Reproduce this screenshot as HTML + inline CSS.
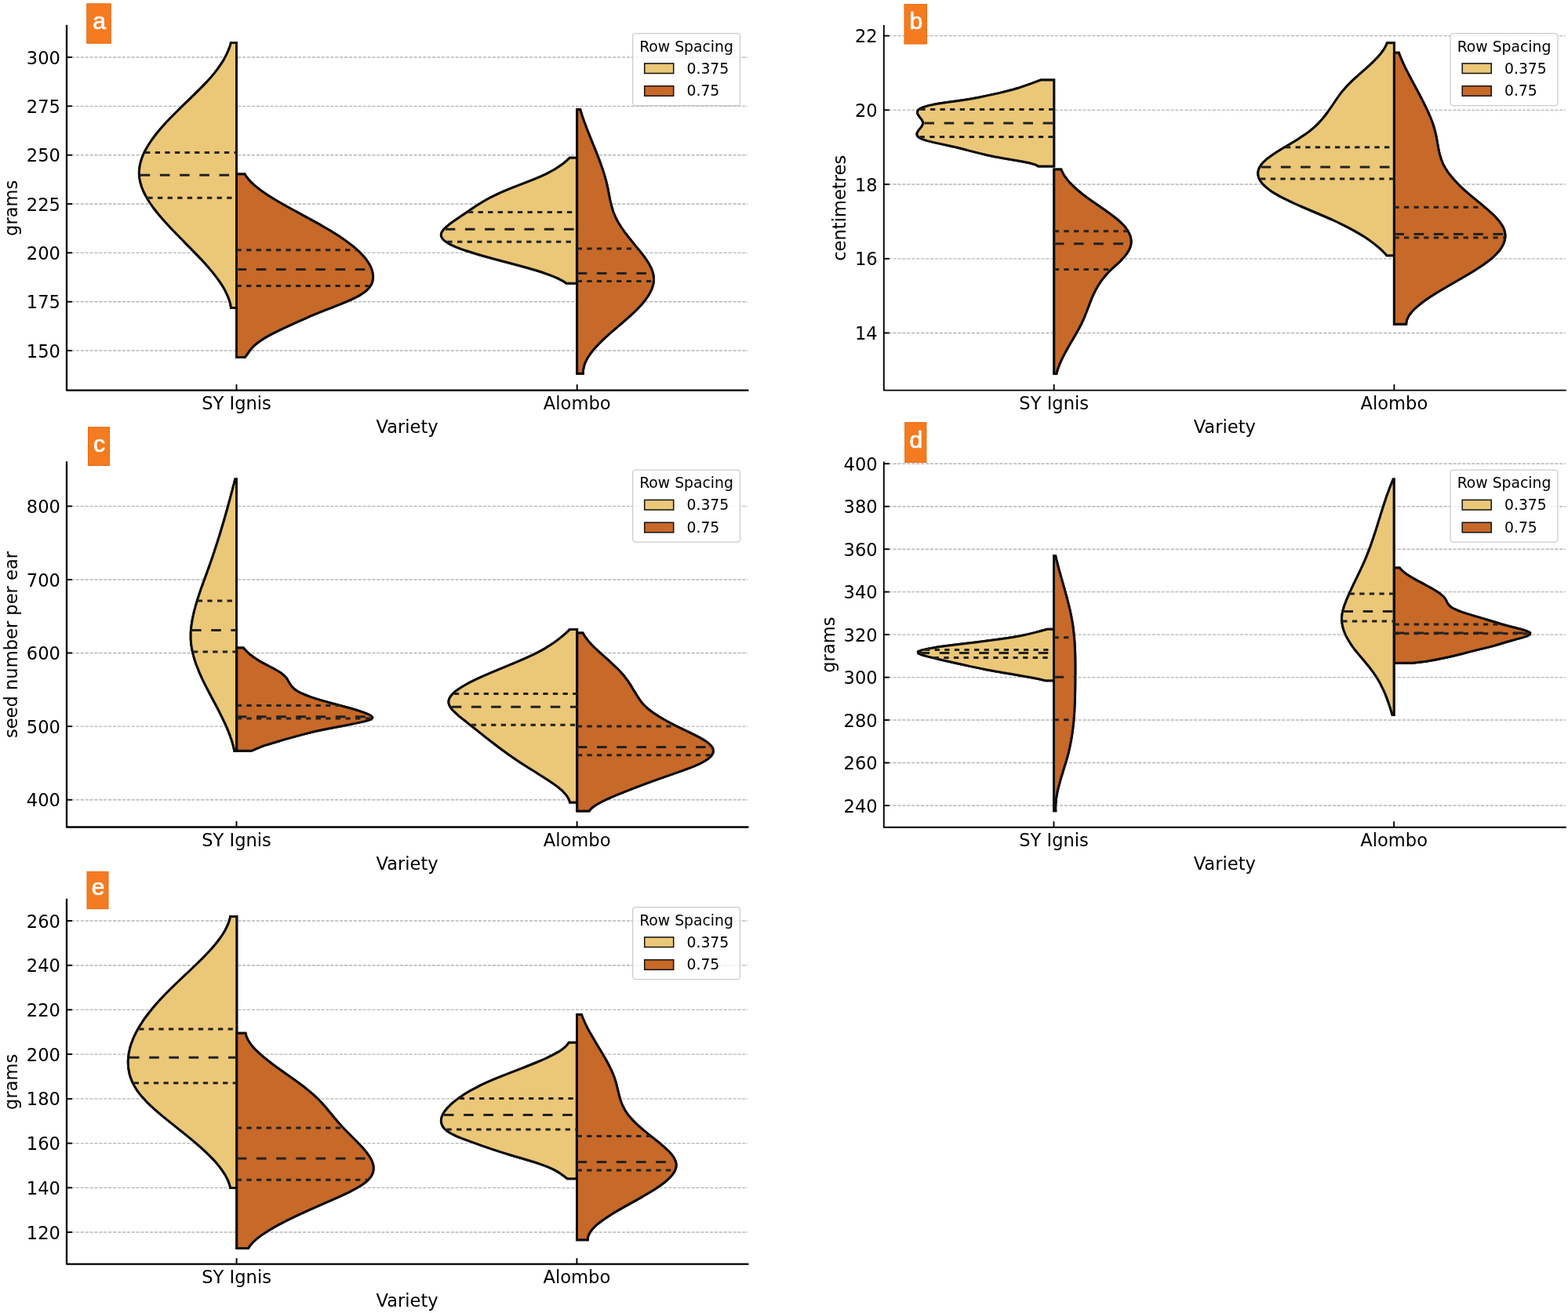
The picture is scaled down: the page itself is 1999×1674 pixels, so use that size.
<!DOCTYPE html>
<html><head><meta charset="utf-8"><title>Violin plots</title>
<style>
html,body{margin:0;padding:0;background:#fff;}
svg{display:block;}
.tl{font-family:"DejaVu Sans","Liberation Sans",sans-serif;font-size:22.6px;fill:#000;}
.lg{font-family:"DejaVu Sans","Liberation Sans",sans-serif;font-size:18.8px;fill:#000;}
.bx{font-family:"Liberation Sans",Arial,sans-serif;font-weight:normal;font-size:30px;fill:#fff;stroke:#fff;stroke-width:0.7px;}
.g{stroke:#a8a8a8;stroke-opacity:0.85;stroke-width:1.35;stroke-dasharray:4.1 1.8;}
.gc{stroke-width:1.35;stroke-dasharray:4.1 1.8;}
</style></head>
<body>
<svg xmlns="http://www.w3.org/2000/svg" width="1999" height="1674" viewBox="0 0 1999 1674">
<rect width="1999" height="1674" fill="#fff"/>
<path id="va0" d="M301.5,54.4 L294.4,54.4 293.9,56.4 293.3,58.4 292.6,60.4 291.9,62.4 291.1,64.4 290.2,66.4 289.3,68.4 288.3,70.4 287.3,72.4 286.2,74.4 285.1,76.4 283.9,78.4 282.6,80.4 281.3,82.4 279.9,84.4 278.5,86.4 277.1,88.4 275.5,90.4 274,92.4 272.4,94.4 270.7,96.4 269,98.4 267.2,100.4 265.4,102.4 263.6,104.4 261.7,106.4 259.8,108.4 257.9,110.4 255.9,112.4 253.9,114.4 251.9,116.4 249.9,118.4 247.9,120.4 245.8,122.4 243.8,124.4 241.7,126.4 239.6,128.4 237.5,130.4 235.5,132.4 233.4,134.4 231.3,136.4 229.3,138.4 227.2,140.5 225.2,142.5 223.2,144.5 221.2,146.5 219.2,148.5 217.2,150.5 215.3,152.5 213.4,154.5 211.5,156.5 209.7,158.5 207.9,160.5 206.1,162.5 204.4,164.5 202.7,166.5 201.1,168.5 199.4,170.5 197.9,172.5 196.4,174.5 194.9,176.5 193.4,178.5 192.1,180.5 190.7,182.5 189.5,184.5 188.2,186.5 187.1,188.5 186,190.5 184.9,192.5 183.9,194.5 183,196.5 182.1,198.5 181.3,200.5 180.6,202.5 180,204.5 179.4,206.5 178.9,208.5 178.4,210.5 178.1,212.5 177.8,214.5 177.6,216.5 177.4,218.5 177.4,220.5 177.4,222.5 177.6,224.5 177.8,226.5 178.1,228.5 178.5,230.5 178.9,232.5 179.5,234.5 180.1,236.5 180.7,238.5 181.5,240.5 182.3,242.5 183.2,244.5 184.2,246.5 185.2,248.5 186.3,250.5 187.4,252.5 188.6,254.5 189.8,256.5 191.1,258.5 192.5,260.5 193.9,262.5 195.3,264.5 196.8,266.5 198.4,268.5 199.9,270.5 201.6,272.5 203.2,274.5 204.9,276.5 206.6,278.5 208.4,280.5 210.2,282.5 212,284.5 213.8,286.5 215.7,288.5 217.5,290.5 219.4,292.5 221.3,294.5 223.3,296.5 225.2,298.5 227.2,300.5 229.1,302.5 231.1,304.5 233.1,306.5 235.1,308.6 237,310.6 239,312.6 241,314.6 243,316.6 244.9,318.6 246.9,320.6 248.8,322.6 250.8,324.6 252.7,326.6 254.6,328.6 256.5,330.6 258.3,332.6 260.1,334.6 262,336.6 263.7,338.6 265.5,340.6 267.2,342.6 268.9,344.6 270.6,346.6 272.2,348.6 273.8,350.6 275.3,352.6 276.8,354.6 278.3,356.6 279.7,358.6 281.1,360.6 282.4,362.6 283.6,364.6 284.8,366.6 286,368.6 287.1,370.6 288.1,372.6 289,374.6 289.9,376.6 290.8,378.6 291.5,380.6 292.2,382.6 292.9,384.6 293.4,386.6 293.9,388.6 294.3,390.6 294.6,392.6 L301.5,392.6 Z" fill="#ebc778" stroke="#0d0d0d" stroke-width="3.0" stroke-linejoin="miter"/>
<path id="va1" d="M301.5,222 L312.1,222 313.3,224 314.7,226 316.3,228 318,230.1 319.9,232.1 322,234.1 324.2,236.1 326.6,238.1 329.2,240.1 331.8,242.1 334.6,244.2 337.5,246.2 340.5,248.2 343.6,250.2 346.8,252.2 350.1,254.2 353.4,256.2 356.9,258.2 360.3,260.3 363.9,262.3 367.5,264.3 371.1,266.3 374.8,268.3 378.5,270.3 382.2,272.3 385.9,274.4 389.6,276.4 393.3,278.4 397,280.4 400.7,282.4 404.3,284.4 407.9,286.4 411.4,288.5 414.9,290.5 418.4,292.5 421.8,294.5 425,296.5 428.3,298.5 431.4,300.5 434.4,302.6 437.4,304.6 440.3,306.6 443,308.6 445.7,310.6 448.3,312.6 450.8,314.6 453.2,316.6 455.4,318.7 457.6,320.7 459.7,322.7 461.6,324.7 463.4,326.7 465.2,328.7 466.7,330.7 468.2,332.8 469.6,334.8 470.8,336.8 471.9,338.8 472.8,340.8 473.6,342.8 474.3,344.8 474.8,346.9 475.2,348.9 475.5,350.9 475.6,352.9 475.5,354.9 475.2,356.9 474.8,358.9 474.1,361 473.2,363 471.9,365 470.4,367 468.6,369 466.4,371 463.8,373 460.8,375 457.4,377.1 453.6,379.1 449.5,381.1 445.1,383.1 440.4,385.1 435.6,387.1 430.6,389.1 425.6,391.2 420.5,393.2 415.3,395.2 410.2,397.2 405.2,399.2 400.3,401.2 395.4,403.2 390.7,405.3 386.1,407.3 381.5,409.3 377,411.3 372.6,413.3 368.3,415.3 363.9,417.3 359.7,419.4 355.5,421.4 351.5,423.4 347.5,425.4 343.7,427.4 340.1,429.4 336.7,431.4 333.5,433.4 330.5,435.5 327.8,437.5 325.4,439.5 323.2,441.5 321.3,443.5 319.6,445.5 318.1,447.5 316.6,449.6 315.2,451.6 313.7,453.6 312.2,455.6 L301.5,455.6 Z" fill="#c76928" stroke="#0d0d0d" stroke-width="3.0" stroke-linejoin="miter"/>
<path id="va2" d="M735.4,201.3 L726.1,201.3 724,203.3 721.8,205.3 719.5,207.3 717,209.3 714.3,211.3 711.3,213.3 708.2,215.3 704.8,217.3 701.1,219.3 697.2,221.3 693,223.3 688.5,225.3 683.7,227.3 678.8,229.3 673.7,231.3 668.6,233.3 663.4,235.3 658.2,237.3 653.1,239.3 648.2,241.3 643.3,243.3 638.7,245.3 634.4,247.3 630.3,249.3 626.3,251.3 622.6,253.3 619,255.3 615.6,257.3 612.3,259.3 609.1,261.3 606,263.3 603,265.3 600,267.3 597.1,269.3 594.2,271.3 591.3,273.3 588.3,275.3 585.4,277.3 582.4,279.3 579.5,281.3 576.6,283.3 573.9,285.3 571.3,287.3 569,289.3 566.9,291.3 565.1,293.3 563.7,295.3 562.7,297.3 562.3,299.3 562.6,301.3 563.5,303.3 565,305.3 567.3,307.3 570.2,309.3 573.7,311.3 577.8,313.3 582.4,315.3 587.6,317.3 593.2,319.3 599.3,321.3 605.7,323.3 612.4,325.3 619.4,327.3 626.7,329.3 634.1,331.3 641.6,333.3 649.2,335.3 656.7,337.3 664.2,339.3 671.4,341.3 678.4,343.3 685.2,345.3 691.5,347.3 697.4,349.3 702.8,351.3 707.8,353.3 712.2,355.3 716,357.3 719.3,359.3 722,361.3 L735.4,361.3 Z" fill="#ebc778" stroke="#0d0d0d" stroke-width="3.0" stroke-linejoin="miter"/>
<path id="va3" d="M735.7,139.8 L739.8,139.8 740.3,141.8 741,143.8 741.6,145.8 742.2,147.8 742.9,149.8 743.6,151.8 744.3,153.8 745,155.8 745.8,157.8 746.5,159.8 747.3,161.8 748,163.8 748.8,165.8 749.6,167.8 750.4,169.8 751.2,171.8 752,173.9 752.8,175.9 753.6,177.9 754.4,179.9 755.2,181.9 756,183.9 756.9,185.9 757.7,187.9 758.5,189.9 759.3,191.9 760.1,193.9 760.9,195.9 761.7,197.9 762.4,199.9 763.2,201.9 764,203.9 764.7,205.9 765.5,207.9 766.2,209.9 766.9,211.9 767.6,213.9 768.3,215.9 768.9,217.9 769.6,219.9 770.2,221.9 770.8,223.9 771.4,225.9 771.9,227.9 772.5,229.9 773,231.9 773.5,233.9 773.9,235.9 774.4,237.9 774.8,239.9 775.2,242 775.6,244 776,246 776.4,248 776.8,250 777.2,252 777.6,254 778,256 778.5,258 779,260 779.5,262 780,264 780.6,266 781.2,268 781.9,270 782.7,272 783.5,274 784.3,276 785.2,278 786.2,280 787.3,282 788.4,284 789.6,286 790.9,288 792.2,290 793.6,292 795,294 796.4,296 797.9,298 799.5,300 801,302 802.6,304 804.2,306 805.9,308.1 807.5,310.1 809.1,312.1 810.8,314.1 812.4,316.1 814.1,318.1 815.7,320.1 817.3,322.1 818.9,324.1 820.4,326.1 821.9,328.1 823.3,330.1 824.6,332.1 825.9,334.1 827.1,336.1 828.3,338.1 829.3,340.1 830.3,342.1 831.1,344.1 831.8,346.1 832.4,348.1 832.9,350.1 833.2,352.1 833.4,354.1 833.5,356.1 833.4,358.1 833.2,360.1 832.8,362.1 832.3,364.1 831.7,366.1 831,368.1 830.1,370.1 829.2,372.1 828.1,374.1 826.9,376.2 825.6,378.2 824.3,380.2 822.8,382.2 821.2,384.2 819.6,386.2 817.9,388.2 816.1,390.2 814.2,392.2 812.3,394.2 810.3,396.2 808.3,398.2 806.2,400.2 804,402.2 801.8,404.2 799.6,406.2 797.3,408.2 795,410.2 792.7,412.2 790.4,414.2 788,416.2 785.7,418.2 783.4,420.2 781,422.2 778.7,424.2 776.5,426.2 774.2,428.2 772,430.2 769.8,432.2 767.7,434.2 765.6,436.2 763.6,438.2 761.7,440.2 759.8,442.2 758,444.3 756.3,446.3 754.7,448.3 753.1,450.3 751.7,452.3 750.4,454.3 749.1,456.3 748,458.3 747,460.3 746.1,462.3 745.3,464.3 744.7,466.3 744.2,468.3 743.8,470.3 743.5,472.3 743.4,474.3 743.4,476.3 L735.7,476.3 Z" fill="#c76928" stroke="#0d0d0d" stroke-width="3.0" stroke-linejoin="miter"/>
<g class="g"><line x1="85" y1="447" x2="953.3" y2="447"/><line x1="85" y1="384.7" x2="953.3" y2="384.7"/><line x1="85" y1="322.3" x2="953.3" y2="322.3"/><line x1="85" y1="260" x2="953.3" y2="260"/><line x1="85" y1="197.7" x2="953.3" y2="197.7"/><line x1="85" y1="135.3" x2="953.3" y2="135.3"/><line x1="85" y1="73" x2="953.3" y2="73"/></g>
<clipPath id="ca0"><use href="#va0"/></clipPath>
<g class="gc" stroke="#dac7a2" clip-path="url(#ca0)"><line x1="85" y1="447" x2="953.3" y2="447"/><line x1="85" y1="384.7" x2="953.3" y2="384.7"/><line x1="85" y1="322.3" x2="953.3" y2="322.3"/><line x1="85" y1="260" x2="953.3" y2="260"/><line x1="85" y1="197.7" x2="953.3" y2="197.7"/><line x1="85" y1="135.3" x2="953.3" y2="135.3"/><line x1="85" y1="73" x2="953.3" y2="73"/></g>
<clipPath id="ca1"><use href="#va1"/></clipPath>
<g class="gc" stroke="#e6bc9c" clip-path="url(#ca1)"><line x1="85" y1="447" x2="953.3" y2="447"/><line x1="85" y1="384.7" x2="953.3" y2="384.7"/><line x1="85" y1="322.3" x2="953.3" y2="322.3"/><line x1="85" y1="260" x2="953.3" y2="260"/><line x1="85" y1="197.7" x2="953.3" y2="197.7"/><line x1="85" y1="135.3" x2="953.3" y2="135.3"/><line x1="85" y1="73" x2="953.3" y2="73"/></g>
<clipPath id="ca2"><use href="#va2"/></clipPath>
<g class="gc" stroke="#dac7a2" clip-path="url(#ca2)"><line x1="85" y1="447" x2="953.3" y2="447"/><line x1="85" y1="384.7" x2="953.3" y2="384.7"/><line x1="85" y1="322.3" x2="953.3" y2="322.3"/><line x1="85" y1="260" x2="953.3" y2="260"/><line x1="85" y1="197.7" x2="953.3" y2="197.7"/><line x1="85" y1="135.3" x2="953.3" y2="135.3"/><line x1="85" y1="73" x2="953.3" y2="73"/></g>
<clipPath id="ca3"><use href="#va3"/></clipPath>
<g class="gc" stroke="#e6bc9c" clip-path="url(#ca3)"><line x1="85" y1="447" x2="953.3" y2="447"/><line x1="85" y1="384.7" x2="953.3" y2="384.7"/><line x1="85" y1="322.3" x2="953.3" y2="322.3"/><line x1="85" y1="260" x2="953.3" y2="260"/><line x1="85" y1="197.7" x2="953.3" y2="197.7"/><line x1="85" y1="135.3" x2="953.3" y2="135.3"/><line x1="85" y1="73" x2="953.3" y2="73"/></g>
<use href="#va0" fill="none"/>
<use href="#va1" fill="none"/>
<use href="#va2" fill="none"/>
<use href="#va3" fill="none"/>
<line x1="185.1" y1="194.4" x2="301.5" y2="194.4" stroke="#222222" stroke-width="3.0" stroke-dasharray="6.3 6.3"/>
<line x1="178.7" y1="223.3" x2="301.5" y2="223.3" stroke="#222222" stroke-width="3.0" stroke-dasharray="12.6 12.6"/>
<line x1="188.4" y1="252.2" x2="301.5" y2="252.2" stroke="#222222" stroke-width="3.0" stroke-dasharray="6.3 6.3"/>
<line x1="301.5" y1="318.7" x2="453.9" y2="318.7" stroke="#222222" stroke-width="3.0" stroke-dasharray="6.3 6.3"/>
<line x1="301.5" y1="343.6" x2="472.2" y2="343.6" stroke="#222222" stroke-width="3.0" stroke-dasharray="12.6 12.6"/>
<line x1="301.5" y1="364.6" x2="470.5" y2="364.6" stroke="#222222" stroke-width="3.0" stroke-dasharray="6.3 6.3"/>
<line x1="596.9" y1="270.4" x2="735.4" y2="270.4" stroke="#222222" stroke-width="3.0" stroke-dasharray="6.3 6.3"/>
<line x1="567.7" y1="292.2" x2="735.4" y2="292.2" stroke="#222222" stroke-width="3.0" stroke-dasharray="12.6 12.6"/>
<line x1="570.4" y1="308.3" x2="735.4" y2="308.3" stroke="#222222" stroke-width="3.0" stroke-dasharray="6.3 6.3"/>
<line x1="735.7" y1="317.1" x2="812.5" y2="317.1" stroke="#222222" stroke-width="3.0" stroke-dasharray="6.3 6.3"/>
<line x1="735.7" y1="348.5" x2="831.6" y2="348.5" stroke="#222222" stroke-width="3.0" stroke-dasharray="12.6 12.6"/>
<line x1="735.7" y1="358.4" x2="832.4" y2="358.4" stroke="#222222" stroke-width="3.0" stroke-dasharray="6.3 6.3"/>
<path d="M85,33 L85,497.6 L953.3,497.6" fill="none" stroke="#000" stroke-width="2.3" stroke-linecap="square" stroke-linejoin="round"/>
<line x1="85" y1="447" x2="92" y2="447" stroke="#000" stroke-width="1.9"/>
<text x="76.9" y="455.5" class="tl" text-anchor="end">150</text>
<line x1="85" y1="384.7" x2="92" y2="384.7" stroke="#000" stroke-width="1.9"/>
<text x="76.9" y="393.2" class="tl" text-anchor="end">175</text>
<line x1="85" y1="322.3" x2="92" y2="322.3" stroke="#000" stroke-width="1.9"/>
<text x="76.9" y="330.8" class="tl" text-anchor="end">200</text>
<line x1="85" y1="260" x2="92" y2="260" stroke="#000" stroke-width="1.9"/>
<text x="76.9" y="268.5" class="tl" text-anchor="end">225</text>
<line x1="85" y1="197.7" x2="92" y2="197.7" stroke="#000" stroke-width="1.9"/>
<text x="76.9" y="206.2" class="tl" text-anchor="end">250</text>
<line x1="85" y1="135.3" x2="92" y2="135.3" stroke="#000" stroke-width="1.9"/>
<text x="76.9" y="143.8" class="tl" text-anchor="end">275</text>
<line x1="85" y1="73" x2="92" y2="73" stroke="#000" stroke-width="1.9"/>
<text x="76.9" y="81.5" class="tl" text-anchor="end">300</text>
<line x1="301.5" y1="497.6" x2="301.5" y2="490.1" stroke="#000" stroke-width="1.9"/>
<text x="301.5" y="522" class="tl" text-anchor="middle">SY Ignis</text>
<line x1="735.7" y1="497.6" x2="735.7" y2="490.1" stroke="#000" stroke-width="1.9"/>
<text x="735.7" y="522" class="tl" text-anchor="middle">Alombo</text>
<text x="519.1" y="551.8" class="tl" text-anchor="middle">Variety</text>
<text x="22.4" y="265.3" class="tl" text-anchor="middle" transform="rotate(-90 22.4 265.3)">grams</text>
<rect x="806.6" y="42.6" width="136.9" height="92" rx="3.5" fill="#fff" fill-opacity="0.8" stroke="#cccccc" stroke-width="1.3"/>
<text x="875" y="65.7" class="lg" text-anchor="middle">Row Spacing</text>
<rect x="821.7" y="80.9" width="37" height="12.6" fill="#ebc778" stroke="#111" stroke-width="1.5"/>
<rect x="821.7" y="109.7" width="37" height="12.6" fill="#c76928" stroke="#111" stroke-width="1.5"/>
<text x="875.5" y="93.8" class="lg">0.375</text>
<text x="875.5" y="122.2" class="lg">0.75</text>
<rect x="110.7" y="4.8" width="30.6" height="50.4" fill="#f47b20" stroke="#e96a12" stroke-width="1"/>
<text x="126.5" y="36.5" class="bx" text-anchor="middle">a</text>
<path id="vb0" d="M1343.7,102.1 L1326.8,102.1 1321.2,104.1 1315.8,106.2 1310.3,108.2 1304.4,110.2 1298.1,112.3 1291.2,114.3 1283.4,116.3 1274.9,118.4 1265.8,120.4 1256.4,122.4 1246.5,124.5 1235.3,126.5 1222.1,128.5 1207.3,130.6 1193.9,132.6 1183.9,134.6 1177,136.7 1172.6,138.7 1170.2,140.7 1169.5,142.8 1169.8,144.8 1170.8,146.8 1172.2,148.9 1173.8,150.9 1175.3,152.9 1176.3,155 1176.7,157 1176.2,159 1175.1,161.1 1173.6,163.1 1171.9,165.1 1170.4,167.2 1169.3,169.2 1168.9,171.2 1169.6,173.3 1171.7,175.3 1175.7,177.3 1181.7,179.4 1189.8,181.4 1199,183.4 1208.6,185.5 1217.7,187.5 1226,189.5 1233.9,191.6 1241.7,193.6 1249.8,195.6 1258.5,197.7 1268.1,199.7 1279,201.7 1290.7,203.8 1302.3,205.8 1312.4,207.8 1320,209.9 1323.7,211.9 L1343.7,211.9 Z" fill="#ebc778" stroke="#0d0d0d" stroke-width="3.0" stroke-linejoin="miter"/>
<path id="vb1" d="M1343.8,215.9 L1352.9,215.9 1353.6,217.9 1354.6,219.9 1355.6,221.9 1356.8,223.9 1358.2,225.9 1359.7,227.9 1361.3,229.9 1363,231.9 1364.8,233.9 1366.8,235.9 1368.9,237.9 1371,239.9 1373.3,242 1375.7,244 1378.1,246 1380.6,248 1383.3,250 1385.9,252 1388.7,254 1391.5,256 1394.4,258 1397.3,260 1400.2,262 1403.1,264 1406,266 1408.8,268 1411.6,270 1414.4,272 1417.1,274 1419.7,276 1422.3,278 1424.7,280 1427,282 1429.2,284 1431.2,286 1433.1,288 1434.8,290 1436.3,292 1437.6,294.1 1438.8,296.1 1439.8,298.1 1440.6,300.1 1441.3,302.1 1441.7,304.1 1442,306.1 1442.1,308.1 1442,310.1 1441.7,312.1 1441.2,314.1 1440.5,316.1 1439.6,318.1 1438.5,320.1 1437.3,322.1 1435.9,324.1 1434.4,326.1 1432.7,328.1 1430.9,330.1 1429,332.1 1427,334.1 1424.8,336.1 1422.6,338.1 1420.4,340.1 1418.2,342.1 1416.1,344.1 1414,346.1 1412.1,348.2 1410.3,350.2 1408.6,352.2 1406.9,354.2 1405.4,356.2 1403.9,358.2 1402.5,360.2 1401.2,362.2 1399.9,364.2 1398.8,366.2 1397.6,368.2 1396.6,370.2 1395.6,372.2 1394.6,374.2 1393.7,376.2 1392.8,378.2 1391.9,380.2 1391.1,382.2 1390.3,384.2 1389.5,386.2 1388.7,388.2 1388,390.2 1387.2,392.2 1386.4,394.2 1385.7,396.2 1384.9,398.2 1384.1,400.3 1383.3,402.3 1382.5,404.3 1381.6,406.3 1380.7,408.3 1379.8,410.3 1378.9,412.3 1377.9,414.3 1376.8,416.3 1375.8,418.3 1374.7,420.3 1373.6,422.3 1372.5,424.3 1371.3,426.3 1370.2,428.3 1369,430.3 1367.9,432.3 1366.7,434.3 1365.5,436.3 1364.3,438.3 1363.2,440.3 1362,442.3 1360.9,444.3 1359.8,446.3 1358.7,448.3 1357.6,450.4 1356.5,452.4 1355.5,454.4 1354.5,456.4 1353.5,458.4 1352.6,460.4 1351.7,462.4 1350.8,464.4 1350.1,466.4 1349.3,468.4 1348.6,470.4 1348,472.4 1347.4,474.4 1346.9,476.4 L1343.8,476.4 Z" fill="#c76928" stroke="#0d0d0d" stroke-width="3.0" stroke-linejoin="miter"/>
<path id="vb2" d="M1777.4,54.7 L1768.3,54.7 1767.6,56.7 1766.7,58.7 1765.6,60.7 1764.4,62.7 1763.1,64.7 1761.6,66.7 1760,68.8 1758.3,70.8 1756.5,72.8 1754.6,74.8 1752.7,76.8 1750.6,78.8 1748.5,80.8 1746.4,82.8 1744.2,84.8 1742,86.8 1739.7,88.8 1737.4,90.8 1735.2,92.8 1732.9,94.8 1730.7,96.9 1728.4,98.9 1726.2,100.9 1724.1,102.9 1722,104.9 1720,106.9 1718,108.9 1716.1,110.9 1714.4,112.9 1712.6,114.9 1711,116.9 1709.4,118.9 1707.9,120.9 1706.4,123 1705,125 1703.6,127 1702.2,129 1700.9,131 1699.5,133 1698.2,135 1696.8,137 1695.4,139 1694,141 1692.6,143 1691.1,145 1689.6,147 1688,149 1686.3,151.1 1684.6,153.1 1682.8,155.1 1680.9,157.1 1678.9,159.1 1676.8,161.1 1674.5,163.1 1672.2,165.1 1669.7,167.1 1667.1,169.1 1664.4,171.1 1661.4,173.1 1658.4,175.1 1655.2,177.2 1652,179.2 1648.7,181.2 1645.3,183.2 1641.9,185.2 1638.6,187.2 1635.2,189.2 1631.9,191.2 1628.7,193.2 1625.6,195.2 1622.6,197.2 1619.8,199.2 1617.1,201.2 1614.6,203.2 1612.3,205.3 1610.3,207.3 1608.5,209.3 1607,211.3 1605.8,213.3 1604.9,215.3 1604.3,217.3 1603.9,219.3 1603.8,221.3 1604,223.3 1604.4,225.3 1605.2,227.3 1606.1,229.3 1607.4,231.4 1608.9,233.4 1610.7,235.4 1612.7,237.4 1615,239.4 1617.5,241.4 1620.3,243.4 1623.3,245.4 1626.6,247.4 1630.1,249.4 1633.8,251.4 1637.8,253.4 1641.9,255.4 1646.1,257.4 1650.5,259.5 1655,261.5 1659.6,263.5 1664.3,265.5 1669,267.5 1673.7,269.5 1678.4,271.5 1683.1,273.5 1687.8,275.5 1692.4,277.5 1697,279.5 1701.4,281.5 1705.7,283.5 1709.9,285.6 1714,287.6 1717.9,289.6 1721.7,291.6 1725.4,293.6 1728.9,295.6 1732.4,297.6 1735.7,299.6 1738.9,301.6 1741.9,303.6 1744.9,305.6 1747.7,307.6 1750.4,309.6 1753,311.6 1755.5,313.7 1757.9,315.7 1760.1,317.7 1762.3,319.7 1764.3,321.7 1766.2,323.7 1768,325.7 L1777.4,325.7 Z" fill="#ebc778" stroke="#0d0d0d" stroke-width="3.0" stroke-linejoin="miter"/>
<path id="vb3" d="M1777.4,67.3 L1783.4,67.3 1784.1,69.3 1784.9,71.3 1785.7,73.3 1786.6,75.3 1787.4,77.3 1788.3,79.3 1789.2,81.3 1790.2,83.3 1791.1,85.3 1792.1,87.3 1793.1,89.3 1794.1,91.3 1795.1,93.3 1796.1,95.3 1797.2,97.3 1798.2,99.3 1799.3,101.3 1800.3,103.3 1801.4,105.3 1802.5,107.3 1803.6,109.3 1804.6,111.3 1805.7,113.3 1806.8,115.3 1807.9,117.3 1808.9,119.3 1810,121.3 1811,123.3 1812.1,125.3 1813.1,127.3 1814.1,129.3 1815.1,131.3 1816.1,133.3 1817.1,135.3 1818.1,137.3 1819,139.3 1820,141.3 1820.9,143.3 1821.7,145.3 1822.6,147.3 1823.4,149.3 1824.2,151.3 1825,153.3 1825.8,155.3 1826.5,157.3 1827.2,159.3 1827.8,161.3 1828.4,163.3 1829,165.3 1829.5,167.3 1830,169.3 1830.5,171.3 1830.9,173.3 1831.3,175.3 1831.7,177.3 1832,179.3 1832.4,181.3 1832.7,183.3 1833.1,185.3 1833.4,187.3 1833.8,189.3 1834.2,191.3 1834.6,193.3 1835.1,195.3 1835.6,197.3 1836.1,199.3 1836.8,201.3 1837.4,203.3 1838.2,205.3 1839,207.3 1839.9,209.3 1840.9,211.3 1842,213.3 1843.2,215.3 1844.5,217.3 1845.8,219.3 1847.3,221.3 1848.8,223.3 1850.4,225.3 1852.1,227.3 1853.8,229.3 1855.7,231.3 1857.6,233.3 1859.5,235.3 1861.6,237.3 1863.7,239.3 1865.8,241.3 1868,243.3 1870.3,245.3 1872.6,247.3 1875,249.3 1877.4,251.3 1879.8,253.3 1882.3,255.3 1884.7,257.3 1887.2,259.3 1889.6,261.3 1892,263.3 1894.3,265.3 1896.6,267.3 1898.9,269.3 1901.1,271.3 1903.2,273.3 1905.2,275.3 1907.1,277.3 1908.9,279.3 1910.6,281.3 1912.2,283.3 1913.6,285.3 1914.9,287.3 1916,289.3 1917,291.3 1917.7,293.3 1918.3,295.3 1918.7,297.3 1918.9,299.3 1918.9,301.3 1918.8,303.3 1918.5,305.3 1918,307.3 1917.3,309.3 1916.5,311.3 1915.5,313.3 1914.4,315.3 1913,317.3 1911.6,319.3 1909.9,321.3 1908.1,323.3 1906.2,325.3 1904,327.3 1901.8,329.3 1899.4,331.3 1896.8,333.3 1894.1,335.3 1891.4,337.3 1888.4,339.3 1885.4,341.3 1882.3,343.3 1879.2,345.3 1875.9,347.3 1872.6,349.3 1869.2,351.3 1865.8,353.3 1862.4,355.3 1858.9,357.3 1855.5,359.3 1852,361.3 1848.5,363.3 1845.1,365.3 1841.7,367.3 1838.3,369.3 1834.9,371.3 1831.7,373.3 1828.4,375.3 1825.3,377.3 1822.2,379.3 1819.3,381.3 1816.4,383.3 1813.7,385.3 1811.1,387.3 1808.6,389.3 1806.2,391.3 1804,393.3 1802,395.3 1800.2,397.3 1798.5,399.3 1797,401.3 1795.7,403.3 1794.7,405.3 1793.8,407.3 1793.2,409.3 1792.9,411.3 1792.7,413.3 L1777.4,413.3 Z" fill="#c76928" stroke="#0d0d0d" stroke-width="3.0" stroke-linejoin="miter"/>
<g class="g"><line x1="1126.8" y1="424.5" x2="1995.8" y2="424.5"/><line x1="1126.8" y1="329.8" x2="1995.8" y2="329.8"/><line x1="1126.8" y1="235" x2="1995.8" y2="235"/><line x1="1126.8" y1="140.3" x2="1995.8" y2="140.3"/><line x1="1126.8" y1="45.6" x2="1995.8" y2="45.6"/></g>
<clipPath id="cb0"><use href="#vb0"/></clipPath>
<g class="gc" stroke="#dac7a2" clip-path="url(#cb0)"><line x1="1126.8" y1="424.5" x2="1995.8" y2="424.5"/><line x1="1126.8" y1="329.8" x2="1995.8" y2="329.8"/><line x1="1126.8" y1="235" x2="1995.8" y2="235"/><line x1="1126.8" y1="140.3" x2="1995.8" y2="140.3"/><line x1="1126.8" y1="45.6" x2="1995.8" y2="45.6"/></g>
<clipPath id="cb1"><use href="#vb1"/></clipPath>
<g class="gc" stroke="#e6bc9c" clip-path="url(#cb1)"><line x1="1126.8" y1="424.5" x2="1995.8" y2="424.5"/><line x1="1126.8" y1="329.8" x2="1995.8" y2="329.8"/><line x1="1126.8" y1="235" x2="1995.8" y2="235"/><line x1="1126.8" y1="140.3" x2="1995.8" y2="140.3"/><line x1="1126.8" y1="45.6" x2="1995.8" y2="45.6"/></g>
<clipPath id="cb2"><use href="#vb2"/></clipPath>
<g class="gc" stroke="#dac7a2" clip-path="url(#cb2)"><line x1="1126.8" y1="424.5" x2="1995.8" y2="424.5"/><line x1="1126.8" y1="329.8" x2="1995.8" y2="329.8"/><line x1="1126.8" y1="235" x2="1995.8" y2="235"/><line x1="1126.8" y1="140.3" x2="1995.8" y2="140.3"/><line x1="1126.8" y1="45.6" x2="1995.8" y2="45.6"/></g>
<clipPath id="cb3"><use href="#vb3"/></clipPath>
<g class="gc" stroke="#e6bc9c" clip-path="url(#cb3)"><line x1="1126.8" y1="424.5" x2="1995.8" y2="424.5"/><line x1="1126.8" y1="329.8" x2="1995.8" y2="329.8"/><line x1="1126.8" y1="235" x2="1995.8" y2="235"/><line x1="1126.8" y1="140.3" x2="1995.8" y2="140.3"/><line x1="1126.8" y1="45.6" x2="1995.8" y2="45.6"/></g>
<use href="#vb0" fill="none"/>
<use href="#vb1" fill="none"/>
<use href="#vb2" fill="none"/>
<use href="#vb3" fill="none"/>
<line x1="1173.3" y1="139.6" x2="1343.7" y2="139.6" stroke="#222222" stroke-width="3.0" stroke-dasharray="6.3 6.3"/>
<line x1="1178.4" y1="157" x2="1343.7" y2="157" stroke="#222222" stroke-width="3.0" stroke-dasharray="12.6 12.6"/>
<line x1="1172.6" y1="174.5" x2="1343.7" y2="174.5" stroke="#222222" stroke-width="3.0" stroke-dasharray="6.3 6.3"/>
<line x1="1343.8" y1="294.7" x2="1437.1" y2="294.7" stroke="#222222" stroke-width="3.0" stroke-dasharray="6.3 6.3"/>
<line x1="1343.8" y1="310.8" x2="1440.9" y2="310.8" stroke="#222222" stroke-width="3.0" stroke-dasharray="12.6 12.6"/>
<line x1="1343.8" y1="343.5" x2="1416" y2="343.5" stroke="#222222" stroke-width="3.0" stroke-dasharray="6.3 6.3"/>
<line x1="1639" y1="187.8" x2="1777.4" y2="187.8" stroke="#222222" stroke-width="3.0" stroke-dasharray="6.3 6.3"/>
<line x1="1607.7" y1="213.1" x2="1777.4" y2="213.1" stroke="#222222" stroke-width="3.0" stroke-dasharray="12.6 12.6"/>
<line x1="1607.2" y1="228" x2="1777.4" y2="228" stroke="#222222" stroke-width="3.0" stroke-dasharray="6.3 6.3"/>
<line x1="1777.4" y1="264.3" x2="1892" y2="264.3" stroke="#222222" stroke-width="3.0" stroke-dasharray="6.3 6.3"/>
<line x1="1777.4" y1="298.6" x2="1917.4" y2="298.6" stroke="#222222" stroke-width="3.0" stroke-dasharray="12.6 12.6"/>
<line x1="1777.4" y1="303.1" x2="1917.4" y2="303.1" stroke="#222222" stroke-width="3.0" stroke-dasharray="6.3 6.3"/>
<path d="M1126.8,33 L1126.8,497.6 L1995.8,497.6" fill="none" stroke="#000" stroke-width="1.9" stroke-linecap="square" stroke-linejoin="round"/>
<line x1="1126.8" y1="424.5" x2="1133.8" y2="424.5" stroke="#000" stroke-width="1.9"/>
<text x="1118.7" y="433" class="tl" text-anchor="end">14</text>
<line x1="1126.8" y1="329.8" x2="1133.8" y2="329.8" stroke="#000" stroke-width="1.9"/>
<text x="1118.7" y="338.3" class="tl" text-anchor="end">16</text>
<line x1="1126.8" y1="235" x2="1133.8" y2="235" stroke="#000" stroke-width="1.9"/>
<text x="1118.7" y="243.5" class="tl" text-anchor="end">18</text>
<line x1="1126.8" y1="140.3" x2="1133.8" y2="140.3" stroke="#000" stroke-width="1.9"/>
<text x="1118.7" y="148.8" class="tl" text-anchor="end">20</text>
<line x1="1126.8" y1="45.6" x2="1133.8" y2="45.6" stroke="#000" stroke-width="1.9"/>
<text x="1118.7" y="54.1" class="tl" text-anchor="end">22</text>
<line x1="1343.7" y1="497.6" x2="1343.7" y2="490.1" stroke="#000" stroke-width="1.9"/>
<text x="1343.7" y="522" class="tl" text-anchor="middle">SY Ignis</text>
<line x1="1777.4" y1="497.6" x2="1777.4" y2="490.1" stroke="#000" stroke-width="1.9"/>
<text x="1777.4" y="522" class="tl" text-anchor="middle">Alombo</text>
<text x="1561.3" y="551.8" class="tl" text-anchor="middle">Variety</text>
<text x="1077.9" y="265.3" class="tl" text-anchor="middle" transform="rotate(-90 1077.9 265.3)">centimetres</text>
<rect x="1849.1" y="42.6" width="136.9" height="92" rx="3.5" fill="#fff" fill-opacity="0.8" stroke="#cccccc" stroke-width="1.3"/>
<text x="1917.5" y="65.7" class="lg" text-anchor="middle">Row Spacing</text>
<rect x="1864.2" y="80.9" width="37" height="12.6" fill="#ebc778" stroke="#111" stroke-width="1.5"/>
<rect x="1864.2" y="109.7" width="37" height="12.6" fill="#c76928" stroke="#111" stroke-width="1.5"/>
<text x="1918" y="93.8" class="lg">0.375</text>
<text x="1918" y="122.2" class="lg">0.75</text>
<rect x="1153" y="5.5" width="28.5" height="50.5" fill="#f47b20" stroke="#e96a12" stroke-width="1"/>
<text x="1167.8" y="37" class="bx" text-anchor="middle">b</text>
<path id="vc0" d="M301.5,610.9 L299.8,610.9 299.3,612.9 298.8,614.9 298.3,616.9 297.7,618.9 297.2,620.9 296.7,622.9 296.2,624.9 295.6,626.9 295.1,628.9 294.6,630.9 294,632.9 293.5,634.9 293,636.9 292.4,638.9 291.9,640.9 291.3,642.9 290.8,644.9 290.2,647 289.7,649 289.1,651 288.5,653 288,655 287.4,657 286.8,659 286.3,661 285.7,663 285.1,665 284.5,667 283.9,669 283.3,671 282.7,673 282.1,675 281.5,677 280.9,679 280.3,681 279.7,683 279.1,685 278.4,687 277.8,689 277.2,691 276.5,693 275.9,695 275.2,697 274.6,699 273.9,701 273.3,703 272.6,705 271.9,707 271.3,709 270.6,711 269.9,713 269.2,715.1 268.5,717.1 267.8,719.1 267.1,721.1 266.4,723.1 265.6,725.1 264.9,727.1 264.2,729.1 263.5,731.1 262.7,733.1 262,735.1 261.3,737.1 260.5,739.1 259.8,741.1 259.1,743.1 258.4,745.1 257.6,747.1 256.9,749.1 256.2,751.1 255.5,753.1 254.9,755.1 254.2,757.1 253.5,759.1 252.9,761.1 252.2,763.1 251.6,765.1 251,767.1 250.4,769.1 249.8,771.1 249.2,773.1 248.7,775.1 248.1,777.1 247.6,779.1 247.1,781.1 246.7,783.1 246.2,785.2 245.8,787.2 245.4,789.2 245,791.2 244.7,793.2 244.4,795.2 244.1,797.2 243.8,799.2 243.6,801.2 243.5,803.2 243.3,805.2 243.2,807.2 243.2,809.2 243.2,811.2 243.2,813.2 243.2,815.2 243.4,817.2 243.5,819.2 243.7,821.2 244,823.2 244.3,825.2 244.7,827.2 245,829.2 245.5,831.2 245.9,833.2 246.5,835.2 247,837.2 247.6,839.2 248.2,841.2 248.9,843.2 249.5,845.2 250.2,847.2 251,849.2 251.8,851.2 252.6,853.2 253.4,855.3 254.2,857.3 255.1,859.3 256,861.3 256.9,863.3 257.8,865.3 258.8,867.3 259.7,869.3 260.7,871.3 261.7,873.3 262.7,875.3 263.7,877.3 264.8,879.3 265.8,881.3 266.9,883.3 267.9,885.3 269,887.3 270,889.3 271.1,891.3 272.1,893.3 273.2,895.3 274.3,897.3 275.3,899.3 276.4,901.3 277.4,903.3 278.5,905.3 279.5,907.3 280.5,909.3 281.5,911.3 282.5,913.3 283.5,915.3 284.5,917.3 285.4,919.3 286.4,921.3 287.3,923.4 288.2,925.4 289.1,927.4 289.9,929.4 290.7,931.4 291.6,933.4 292.3,935.4 293.1,937.4 293.8,939.4 294.5,941.4 295.2,943.4 295.8,945.4 296.4,947.4 297,949.4 297.5,951.4 298,953.4 298.4,955.4 298.8,957.4 L301.5,957.4 Z" fill="#ebc778" stroke="#0d0d0d" stroke-width="3.0" stroke-linejoin="miter"/>
<path id="vc1" d="M301.8,825.9 L310.4,825.9 312,827.9 313.9,829.9 316,832 318.3,834 320.8,836 323.5,838 326.5,840.1 329.7,842.1 333.1,844.1 336.8,846.1 340.6,848.1 344.5,850.2 348.3,852.2 352,854.2 355.5,856.2 358.5,858.2 361.1,860.3 363.2,862.3 365,864.3 366.4,866.3 367.6,868.4 368.8,870.4 370,872.4 371.4,874.4 373.1,876.4 375.3,878.5 378,880.5 381.5,882.5 385.6,884.5 390.5,886.5 396,888.6 402.1,890.6 408.7,892.6 415.7,894.6 423.1,896.7 430.7,898.7 438.3,900.7 445.7,902.7 452.8,904.7 459.3,906.8 465,908.8 469.8,910.8 473.3,912.8 474.8,914.8 473.3,916.9 468,918.9 459.5,920.9 449.8,922.9 439.4,925 428.8,927 418.3,929 408.4,931 399.3,933 391.1,935.1 383.4,937.1 376,939.1 368.8,941.1 361.6,943.1 354.6,945.2 347.8,947.2 341.3,949.2 335.3,951.2 329.8,953.3 324.9,955.3 320.7,957.3 L301.8,957.3 Z" fill="#c76928" stroke="#0d0d0d" stroke-width="3.0" stroke-linejoin="miter"/>
<path id="vc2" d="M735.6,802.6 L726.4,802.6 724.3,804.6 722.1,806.6 719.9,808.6 717.5,810.6 715.1,812.6 712.6,814.6 710,816.6 707.3,818.6 704.5,820.6 701.5,822.6 698.3,824.6 695,826.6 691.5,828.6 687.8,830.6 683.9,832.6 679.9,834.6 675.6,836.6 671.3,838.6 666.7,840.7 662.1,842.7 657.4,844.7 652.6,846.7 647.8,848.7 643,850.7 638.1,852.7 633.3,854.7 628.5,856.7 623.8,858.7 619.2,860.7 614.6,862.7 610.2,864.7 605.9,866.7 601.8,868.7 597.9,870.7 594.1,872.7 590.6,874.7 587.4,876.7 584.4,878.7 581.6,880.7 579.2,882.7 577.1,884.7 575.3,886.7 573.9,888.7 572.8,890.7 572.2,892.7 571.9,894.7 572.1,896.7 572.7,898.7 573.7,900.7 575,902.7 576.6,904.7 578.4,906.7 580.5,908.7 582.7,910.7 585.1,912.8 587.6,914.8 590.1,916.8 592.7,918.8 595.2,920.8 597.7,922.8 600.2,924.8 602.7,926.8 605.3,928.8 607.8,930.8 610.3,932.8 612.8,934.8 615.3,936.8 617.8,938.8 620.3,940.8 622.9,942.8 625.4,944.8 628,946.8 630.6,948.8 633.2,950.8 635.8,952.8 638.5,954.8 641.2,956.8 644,958.8 646.7,960.8 649.5,962.8 652.4,964.8 655.3,966.8 658.2,968.8 661.2,970.8 664.2,972.8 667.3,974.8 670.5,976.8 673.7,978.8 676.9,980.8 680.2,982.8 683.4,984.8 686.7,986.9 689.9,988.9 693.1,990.9 696.2,992.9 699.3,994.9 702.3,996.9 705.2,998.9 707.9,1000.9 710.6,1002.9 713.1,1004.9 715.4,1006.9 717.6,1008.9 719.5,1010.9 721.3,1012.9 722.8,1014.9 724.1,1016.9 725.2,1018.9 726,1020.9 726.5,1022.9 L735.6,1022.9 Z" fill="#ebc778" stroke="#0d0d0d" stroke-width="3.0" stroke-linejoin="miter"/>
<path id="vc3" d="M735.8,807.1 L743.1,807.1 744.2,809.1 745.5,811.1 746.9,813.1 748.4,815.1 750,817.1 751.7,819.1 753.6,821.2 755.5,823.2 757.5,825.2 759.5,827.2 761.7,829.2 763.8,831.2 766,833.2 768.3,835.2 770.5,837.2 772.8,839.2 775,841.2 777.3,843.2 779.5,845.3 781.7,847.3 783.8,849.3 785.9,851.3 787.9,853.3 789.9,855.3 791.7,857.3 793.5,859.3 795.2,861.3 796.8,863.3 798.3,865.3 799.8,867.3 801.1,869.3 802.5,871.4 803.8,873.4 805.1,875.4 806.3,877.4 807.5,879.4 808.7,881.4 810,883.4 811.2,885.4 812.4,887.4 813.7,889.4 815,891.4 816.5,893.4 818,895.5 819.7,897.5 821.6,899.5 823.6,901.5 825.9,903.5 828.4,905.5 831,907.5 833.9,909.5 836.9,911.5 840,913.5 843.4,915.5 846.8,917.5 850.4,919.5 854.2,921.6 858,923.6 862,925.6 866.1,927.6 870.2,929.6 874.4,931.6 878.6,933.6 882.7,935.6 886.7,937.6 890.6,939.6 894.2,941.6 897.5,943.6 900.6,945.6 903.2,947.7 905.5,949.7 907.2,951.7 908.5,953.7 909.2,955.7 909.4,957.7 909,959.7 908.1,961.7 906.7,963.7 904.8,965.7 902.3,967.7 899.3,969.7 895.8,971.8 891.7,973.8 887.3,975.8 882.4,977.8 877.2,979.8 871.8,981.8 866.2,983.8 860.5,985.8 854.8,987.8 849,989.8 843.4,991.8 837.7,993.8 832.2,995.8 826.7,997.9 821.3,999.9 816,1001.9 810.7,1003.9 805.5,1005.9 800.4,1007.9 795.3,1009.9 790.4,1011.9 785.5,1013.9 780.7,1015.9 776.1,1017.9 771.8,1019.9 767.6,1022 763.8,1024 760.4,1026 757.3,1028 754.7,1030 752.7,1032 751.2,1034 L735.8,1034 Z" fill="#c76928" stroke="#0d0d0d" stroke-width="3.0" stroke-linejoin="miter"/>
<g class="g"><line x1="85" y1="1019.7" x2="953.3" y2="1019.7"/><line x1="85" y1="926.1" x2="953.3" y2="926.1"/><line x1="85" y1="832.5" x2="953.3" y2="832.5"/><line x1="85" y1="739" x2="953.3" y2="739"/><line x1="85" y1="645.4" x2="953.3" y2="645.4"/></g>
<clipPath id="cc0"><use href="#vc0"/></clipPath>
<g class="gc" stroke="#dac7a2" clip-path="url(#cc0)"><line x1="85" y1="1019.7" x2="953.3" y2="1019.7"/><line x1="85" y1="926.1" x2="953.3" y2="926.1"/><line x1="85" y1="832.5" x2="953.3" y2="832.5"/><line x1="85" y1="739" x2="953.3" y2="739"/><line x1="85" y1="645.4" x2="953.3" y2="645.4"/></g>
<clipPath id="cc1"><use href="#vc1"/></clipPath>
<g class="gc" stroke="#e6bc9c" clip-path="url(#cc1)"><line x1="85" y1="1019.7" x2="953.3" y2="1019.7"/><line x1="85" y1="926.1" x2="953.3" y2="926.1"/><line x1="85" y1="832.5" x2="953.3" y2="832.5"/><line x1="85" y1="739" x2="953.3" y2="739"/><line x1="85" y1="645.4" x2="953.3" y2="645.4"/></g>
<clipPath id="cc2"><use href="#vc2"/></clipPath>
<g class="gc" stroke="#dac7a2" clip-path="url(#cc2)"><line x1="85" y1="1019.7" x2="953.3" y2="1019.7"/><line x1="85" y1="926.1" x2="953.3" y2="926.1"/><line x1="85" y1="832.5" x2="953.3" y2="832.5"/><line x1="85" y1="739" x2="953.3" y2="739"/><line x1="85" y1="645.4" x2="953.3" y2="645.4"/></g>
<clipPath id="cc3"><use href="#vc3"/></clipPath>
<g class="gc" stroke="#e6bc9c" clip-path="url(#cc3)"><line x1="85" y1="1019.7" x2="953.3" y2="1019.7"/><line x1="85" y1="926.1" x2="953.3" y2="926.1"/><line x1="85" y1="832.5" x2="953.3" y2="832.5"/><line x1="85" y1="739" x2="953.3" y2="739"/><line x1="85" y1="645.4" x2="953.3" y2="645.4"/></g>
<use href="#vc0" fill="none"/>
<use href="#vc1" fill="none"/>
<use href="#vc2" fill="none"/>
<use href="#vc3" fill="none"/>
<line x1="251.8" y1="766" x2="301.5" y2="766" stroke="#222222" stroke-width="3.0" stroke-dasharray="6.3 6.3"/>
<line x1="244" y1="803.4" x2="301.5" y2="803.4" stroke="#222222" stroke-width="3.0" stroke-dasharray="12.6 12.6"/>
<line x1="246" y1="830.9" x2="301.5" y2="830.9" stroke="#222222" stroke-width="3.0" stroke-dasharray="6.3 6.3"/>
<line x1="301.8" y1="899.6" x2="432.9" y2="899.6" stroke="#222222" stroke-width="3.0" stroke-dasharray="6.3 6.3"/>
<line x1="301.8" y1="913.8" x2="472.3" y2="913.8" stroke="#222222" stroke-width="3.0" stroke-dasharray="12.6 12.6"/>
<line x1="301.8" y1="916" x2="472.2" y2="916" stroke="#222222" stroke-width="3.0" stroke-dasharray="6.3 6.3"/>
<line x1="578.9" y1="884.5" x2="735.6" y2="884.5" stroke="#222222" stroke-width="3.0" stroke-dasharray="6.3 6.3"/>
<line x1="575.7" y1="901.3" x2="735.6" y2="901.3" stroke="#222222" stroke-width="3.0" stroke-dasharray="12.6 12.6"/>
<line x1="600.9" y1="924.2" x2="735.6" y2="924.2" stroke="#222222" stroke-width="3.0" stroke-dasharray="6.3 6.3"/>
<line x1="735.8" y1="925.9" x2="861.4" y2="925.9" stroke="#222222" stroke-width="3.0" stroke-dasharray="6.3 6.3"/>
<line x1="735.8" y1="952.4" x2="906" y2="952.4" stroke="#222222" stroke-width="3.0" stroke-dasharray="12.6 12.6"/>
<line x1="735.8" y1="962.8" x2="905.6" y2="962.8" stroke="#222222" stroke-width="3.0" stroke-dasharray="6.3 6.3"/>
<path d="M85,589.5 L85,1054.5 L953.3,1054.5" fill="none" stroke="#000" stroke-width="2.3" stroke-linecap="square" stroke-linejoin="round"/>
<line x1="85" y1="1019.7" x2="92" y2="1019.7" stroke="#000" stroke-width="1.9"/>
<text x="76.9" y="1028.2" class="tl" text-anchor="end">400</text>
<line x1="85" y1="926.1" x2="92" y2="926.1" stroke="#000" stroke-width="1.9"/>
<text x="76.9" y="934.6" class="tl" text-anchor="end">500</text>
<line x1="85" y1="832.5" x2="92" y2="832.5" stroke="#000" stroke-width="1.9"/>
<text x="76.9" y="841" class="tl" text-anchor="end">600</text>
<line x1="85" y1="739" x2="92" y2="739" stroke="#000" stroke-width="1.9"/>
<text x="76.9" y="747.5" class="tl" text-anchor="end">700</text>
<line x1="85" y1="645.4" x2="92" y2="645.4" stroke="#000" stroke-width="1.9"/>
<text x="76.9" y="653.9" class="tl" text-anchor="end">800</text>
<line x1="301.5" y1="1054.5" x2="301.5" y2="1047" stroke="#000" stroke-width="1.9"/>
<text x="301.5" y="1078.9" class="tl" text-anchor="middle">SY Ignis</text>
<line x1="735.6" y1="1054.5" x2="735.6" y2="1047" stroke="#000" stroke-width="1.9"/>
<text x="735.6" y="1078.9" class="tl" text-anchor="middle">Alombo</text>
<text x="519.1" y="1108.7" class="tl" text-anchor="middle">Variety</text>
<text x="22.4" y="822" class="tl" text-anchor="middle" transform="rotate(-90 22.4 822)">seed number per ear</text>
<rect x="806.6" y="599.1" width="136.9" height="92" rx="3.5" fill="#fff" fill-opacity="0.8" stroke="#cccccc" stroke-width="1.3"/>
<text x="875" y="622.2" class="lg" text-anchor="middle">Row Spacing</text>
<rect x="821.7" y="637.4" width="37" height="12.6" fill="#ebc778" stroke="#111" stroke-width="1.5"/>
<rect x="821.7" y="666.2" width="37" height="12.6" fill="#c76928" stroke="#111" stroke-width="1.5"/>
<text x="875.5" y="650.3" class="lg">0.375</text>
<text x="875.5" y="678.7" class="lg">0.75</text>
<rect x="112.5" y="544.7" width="27" height="48.8" fill="#f47b20" stroke="#e96a12" stroke-width="1"/>
<text x="126.5" y="575.5" class="bx" text-anchor="middle">c</text>
<path id="vd0" d="M1343.5,802.3 L1335,802.3 1327.7,804.3 1320,806.4 1311.6,808.4 1302.1,810.5 1290.9,812.5 1277.6,814.6 1262.2,816.6 1245.4,818.7 1228.2,820.7 1211.7,822.8 1196.7,824.8 1184.2,826.9 1175.1,828.9 1170.4,831 1170.8,833 1175.7,835 1183.1,837.1 1191.4,839.1 1200.1,841.2 1209,843.2 1217.9,845.3 1227,847.3 1236.3,849.4 1246,851.4 1256.1,853.5 1266.8,855.5 1278.2,857.6 1290.4,859.6 1302.8,861.7 1314.5,863.7 1324.7,865.8 1332.8,867.8 L1343.5,867.8 Z" fill="#ebc778" stroke="#0d0d0d" stroke-width="3.0" stroke-linejoin="miter"/>
<path id="vd1" d="M1343.5,708.8 L1345.7,708.8 1346.2,710.8 1346.6,712.8 1347.1,714.8 1347.6,716.8 1348.2,718.8 1348.7,720.8 1349.2,722.8 1349.7,724.8 1350.3,726.9 1350.8,728.9 1351.4,730.9 1352,732.9 1352.5,734.9 1353.1,736.9 1353.7,738.9 1354.2,740.9 1354.8,742.9 1355.4,744.9 1355.9,746.9 1356.5,748.9 1357.1,750.9 1357.6,752.9 1358.2,754.9 1358.7,756.9 1359.3,759 1359.8,761 1360.4,763 1360.9,765 1361.4,767 1361.9,769 1362.4,771 1362.9,773 1363.4,775 1363.9,777 1364.3,779 1364.7,781 1365.2,783 1365.6,785 1366,787 1366.3,789 1366.7,791.1 1367,793.1 1367.4,795.1 1367.7,797.1 1368,799.1 1368.2,801.1 1368.5,803.1 1368.7,805.1 1368.9,807.1 1369.1,809.1 1369.3,811.1 1369.5,813.1 1369.7,815.1 1369.8,817.1 1370,819.1 1370.1,821.1 1370.2,823.2 1370.3,825.2 1370.4,827.2 1370.5,829.2 1370.6,831.2 1370.6,833.2 1370.7,835.2 1370.7,837.2 1370.8,839.2 1370.8,841.2 1370.8,843.2 1370.8,845.2 1370.9,847.2 1370.9,849.2 1370.9,851.2 1370.9,853.2 1370.9,855.3 1370.9,857.3 1370.9,859.3 1370.8,861.3 1370.8,863.3 1370.8,865.3 1370.8,867.3 1370.8,869.3 1370.8,871.3 1370.7,873.3 1370.7,875.3 1370.7,877.3 1370.7,879.3 1370.6,881.3 1370.6,883.3 1370.6,885.3 1370.5,887.3 1370.5,889.4 1370.4,891.4 1370.3,893.4 1370.3,895.4 1370.2,897.4 1370.1,899.4 1370,901.4 1369.9,903.4 1369.8,905.4 1369.7,907.4 1369.6,909.4 1369.4,911.4 1369.3,913.4 1369.1,915.4 1368.9,917.4 1368.8,919.4 1368.6,921.5 1368.4,923.5 1368.1,925.5 1367.9,927.5 1367.7,929.5 1367.4,931.5 1367.1,933.5 1366.9,935.5 1366.6,937.5 1366.3,939.5 1365.9,941.5 1365.6,943.5 1365.2,945.5 1364.8,947.5 1364.4,949.5 1364,951.5 1363.6,953.6 1363.1,955.6 1362.7,957.6 1362.2,959.6 1361.7,961.6 1361.1,963.6 1360.6,965.6 1360,967.6 1359.5,969.6 1358.9,971.6 1358.3,973.6 1357.7,975.6 1357,977.6 1356.4,979.6 1355.8,981.6 1355.2,983.6 1354.6,985.7 1353.9,987.7 1353.3,989.7 1352.7,991.7 1352.1,993.7 1351.6,995.7 1351,997.7 1350.5,999.7 1349.9,1001.7 1349.4,1003.7 1348.9,1005.7 1348.5,1007.7 1348,1009.7 1347.6,1011.7 1347.3,1013.7 1346.9,1015.7 1346.6,1017.8 1346.4,1019.8 1346.2,1021.8 1346,1023.8 1345.8,1025.8 1345.8,1027.8 1345.7,1029.8 1345.7,1031.8 1345.8,1033.8 L1343.5,1033.8 Z" fill="#c76928" stroke="#0d0d0d" stroke-width="3.0" stroke-linejoin="miter"/>
<path id="vd2" d="M1777.1,611 L1776.2,611 1775.3,613 1774.5,615 1773.7,617 1772.9,619 1772.1,621 1771.3,623 1770.6,625 1769.9,627 1769.1,629 1768.4,631 1767.7,633 1767,635 1766.4,637 1765.7,639 1765,641 1764.4,643 1763.7,645 1763.1,647 1762.4,649.1 1761.8,651.1 1761.2,653.1 1760.5,655.1 1759.9,657.1 1759.3,659.1 1758.7,661.1 1758,663.1 1757.4,665.1 1756.8,667.1 1756.2,669.1 1755.6,671.1 1754.9,673.1 1754.3,675.1 1753.7,677.1 1753,679.1 1752.4,681.1 1751.7,683.1 1751,685.1 1750.4,687.1 1749.7,689.1 1749,691.1 1748.3,693.1 1747.6,695.1 1746.9,697.1 1746.1,699.1 1745.4,701.1 1744.6,703.1 1743.8,705.1 1743,707.1 1742.2,709.1 1741.4,711.1 1740.6,713.1 1739.7,715.1 1738.8,717.1 1737.9,719.1 1737,721.1 1736.1,723.1 1735.2,725.2 1734.2,727.2 1733.3,729.2 1732.3,731.2 1731.3,733.2 1730.4,735.2 1729.4,737.2 1728.4,739.2 1727.5,741.2 1726.5,743.2 1725.5,745.2 1724.6,747.2 1723.6,749.2 1722.7,751.2 1721.8,753.2 1720.8,755.2 1719.9,757.2 1719.1,759.2 1718.2,761.2 1717.4,763.2 1716.5,765.2 1715.7,767.2 1715,769.2 1714.2,771.2 1713.5,773.2 1712.9,775.2 1712.3,777.2 1711.8,779.2 1711.4,781.2 1711,783.2 1710.8,785.2 1710.6,787.2 1710.6,789.2 1710.6,791.2 1710.8,793.2 1711.1,795.2 1711.4,797.2 1711.9,799.3 1712.4,801.3 1713,803.3 1713.8,805.3 1714.6,807.3 1715.4,809.3 1716.4,811.3 1717.4,813.3 1718.6,815.3 1719.7,817.3 1721,819.3 1722.3,821.3 1723.7,823.3 1725.1,825.3 1726.6,827.3 1728.1,829.3 1729.7,831.3 1731.4,833.3 1733,835.3 1734.7,837.3 1736.4,839.3 1738.1,841.3 1739.8,843.3 1741.4,845.3 1743.1,847.3 1744.7,849.3 1746.3,851.3 1747.9,853.3 1749.4,855.3 1750.9,857.3 1752.2,859.3 1753.6,861.3 1754.9,863.3 1756.1,865.3 1757.3,867.3 1758.5,869.3 1759.6,871.3 1760.6,873.3 1761.6,875.4 1762.6,877.4 1763.6,879.4 1764.5,881.4 1765.4,883.4 1766.2,885.4 1767,887.4 1767.8,889.4 1768.5,891.4 1769.3,893.4 1770,895.4 1770.7,897.4 1771.3,899.4 1772,901.4 1772.6,903.4 1773.2,905.4 1773.8,907.4 1774.4,909.4 1775,911.4 L1777.1,911.4 Z" fill="#ebc778" stroke="#0d0d0d" stroke-width="3.0" stroke-linejoin="miter"/>
<path id="vd3" d="M1777.5,723.9 L1784.4,723.9 1785.9,725.9 1788,727.9 1790.4,730 1793.1,732 1796.2,734 1799.5,736 1803.1,738.1 1806.7,740.1 1810.5,742.1 1814.3,744.1 1818.1,746.2 1821.8,748.2 1825.4,750.2 1828.8,752.2 1832.1,754.2 1835,756.3 1837.6,758.3 1839.9,760.3 1841.7,762.3 1843.1,764.4 1844.1,766.4 1845.1,768.4 1846.3,770.4 1848.1,772.5 1850.6,774.5 1854.2,776.5 1858.9,778.5 1864.5,780.6 1870.8,782.6 1877.3,784.6 1884.1,786.6 1891,788.6 1897.8,790.7 1904.5,792.7 1911,794.7 1917.7,796.7 1925.2,798.8 1933.2,800.8 1940.9,802.8 1947.1,804.8 1950.7,806.9 1950.5,808.9 1946.9,810.9 1940.9,812.9 1933.5,814.9 1925.8,817 1918.8,819 1912.3,821 1905.5,823 1897.7,825.1 1889.3,827.1 1881.1,829.1 1873.1,831.1 1865.2,833.2 1857.1,835.2 1848.5,837.2 1839.1,839.2 1829.3,841.3 1818.1,843.3 1801.3,845.3 L1777.5,845.3 Z" fill="#c76928" stroke="#0d0d0d" stroke-width="3.0" stroke-linejoin="miter"/>
<g class="g"><line x1="1126.8" y1="1027" x2="1995.8" y2="1027"/><line x1="1126.8" y1="972.5" x2="1995.8" y2="972.5"/><line x1="1126.8" y1="918" x2="1995.8" y2="918"/><line x1="1126.8" y1="863.6" x2="1995.8" y2="863.6"/><line x1="1126.8" y1="809.1" x2="1995.8" y2="809.1"/><line x1="1126.8" y1="754.6" x2="1995.8" y2="754.6"/><line x1="1126.8" y1="700.2" x2="1995.8" y2="700.2"/><line x1="1126.8" y1="645.7" x2="1995.8" y2="645.7"/><line x1="1126.8" y1="591.2" x2="1995.8" y2="591.2"/></g>
<clipPath id="cd0"><use href="#vd0"/></clipPath>
<g class="gc" stroke="#dac7a2" clip-path="url(#cd0)"><line x1="1126.8" y1="1027" x2="1995.8" y2="1027"/><line x1="1126.8" y1="972.5" x2="1995.8" y2="972.5"/><line x1="1126.8" y1="918" x2="1995.8" y2="918"/><line x1="1126.8" y1="863.6" x2="1995.8" y2="863.6"/><line x1="1126.8" y1="809.1" x2="1995.8" y2="809.1"/><line x1="1126.8" y1="754.6" x2="1995.8" y2="754.6"/><line x1="1126.8" y1="700.2" x2="1995.8" y2="700.2"/><line x1="1126.8" y1="645.7" x2="1995.8" y2="645.7"/><line x1="1126.8" y1="591.2" x2="1995.8" y2="591.2"/></g>
<clipPath id="cd1"><use href="#vd1"/></clipPath>
<g class="gc" stroke="#e6bc9c" clip-path="url(#cd1)"><line x1="1126.8" y1="1027" x2="1995.8" y2="1027"/><line x1="1126.8" y1="972.5" x2="1995.8" y2="972.5"/><line x1="1126.8" y1="918" x2="1995.8" y2="918"/><line x1="1126.8" y1="863.6" x2="1995.8" y2="863.6"/><line x1="1126.8" y1="809.1" x2="1995.8" y2="809.1"/><line x1="1126.8" y1="754.6" x2="1995.8" y2="754.6"/><line x1="1126.8" y1="700.2" x2="1995.8" y2="700.2"/><line x1="1126.8" y1="645.7" x2="1995.8" y2="645.7"/><line x1="1126.8" y1="591.2" x2="1995.8" y2="591.2"/></g>
<clipPath id="cd2"><use href="#vd2"/></clipPath>
<g class="gc" stroke="#dac7a2" clip-path="url(#cd2)"><line x1="1126.8" y1="1027" x2="1995.8" y2="1027"/><line x1="1126.8" y1="972.5" x2="1995.8" y2="972.5"/><line x1="1126.8" y1="918" x2="1995.8" y2="918"/><line x1="1126.8" y1="863.6" x2="1995.8" y2="863.6"/><line x1="1126.8" y1="809.1" x2="1995.8" y2="809.1"/><line x1="1126.8" y1="754.6" x2="1995.8" y2="754.6"/><line x1="1126.8" y1="700.2" x2="1995.8" y2="700.2"/><line x1="1126.8" y1="645.7" x2="1995.8" y2="645.7"/><line x1="1126.8" y1="591.2" x2="1995.8" y2="591.2"/></g>
<clipPath id="cd3"><use href="#vd3"/></clipPath>
<g class="gc" stroke="#e6bc9c" clip-path="url(#cd3)"><line x1="1126.8" y1="1027" x2="1995.8" y2="1027"/><line x1="1126.8" y1="972.5" x2="1995.8" y2="972.5"/><line x1="1126.8" y1="918" x2="1995.8" y2="918"/><line x1="1126.8" y1="863.6" x2="1995.8" y2="863.6"/><line x1="1126.8" y1="809.1" x2="1995.8" y2="809.1"/><line x1="1126.8" y1="754.6" x2="1995.8" y2="754.6"/><line x1="1126.8" y1="700.2" x2="1995.8" y2="700.2"/><line x1="1126.8" y1="645.7" x2="1995.8" y2="645.7"/><line x1="1126.8" y1="591.2" x2="1995.8" y2="591.2"/></g>
<use href="#vd0" fill="none"/>
<use href="#vd1" fill="none"/>
<use href="#vd2" fill="none"/>
<use href="#vd3" fill="none"/>
<line x1="1179" y1="828.4" x2="1343.5" y2="828.4" stroke="#222222" stroke-width="3.0" stroke-dasharray="6.3 6.3"/>
<line x1="1172.5" y1="832.6" x2="1343.5" y2="832.6" stroke="#222222" stroke-width="3.0" stroke-dasharray="12.6 12.6"/>
<line x1="1190.7" y1="838.6" x2="1343.5" y2="838.6" stroke="#222222" stroke-width="3.0" stroke-dasharray="6.3 6.3"/>
<line x1="1343.5" y1="812.7" x2="1369.2" y2="812.7" stroke="#222222" stroke-width="3.0" stroke-dasharray="6.3 6.3"/>
<line x1="1343.5" y1="863.3" x2="1370.6" y2="863.3" stroke="#222222" stroke-width="3.0" stroke-dasharray="12.6 12.6"/>
<line x1="1343.5" y1="917.8" x2="1368.7" y2="917.8" stroke="#222222" stroke-width="3.0" stroke-dasharray="6.3 6.3"/>
<line x1="1720.6" y1="756.9" x2="1777.1" y2="756.9" stroke="#222222" stroke-width="3.0" stroke-dasharray="6.3 6.3"/>
<line x1="1712.4" y1="779.6" x2="1777.1" y2="779.6" stroke="#222222" stroke-width="3.0" stroke-dasharray="12.6 12.6"/>
<line x1="1711.3" y1="791.9" x2="1777.1" y2="791.9" stroke="#222222" stroke-width="3.0" stroke-dasharray="6.3 6.3"/>
<line x1="1777.5" y1="796" x2="1913.9" y2="796" stroke="#222222" stroke-width="3.0" stroke-dasharray="6.3 6.3"/>
<line x1="1777.5" y1="807.1" x2="1948.9" y2="807.1" stroke="#222222" stroke-width="3.0" stroke-dasharray="12.6 12.6"/>
<line x1="1777.5" y1="807.7" x2="1948.9" y2="807.7" stroke="#222222" stroke-width="3.0" stroke-dasharray="6.3 6.3"/>
<path d="M1126.8,589.5 L1126.8,1054.8 L1995.8,1054.8" fill="none" stroke="#000" stroke-width="1.9" stroke-linecap="square" stroke-linejoin="round"/>
<line x1="1126.8" y1="1027" x2="1133.8" y2="1027" stroke="#000" stroke-width="1.9"/>
<text x="1118.7" y="1035.5" class="tl" text-anchor="end">240</text>
<line x1="1126.8" y1="972.5" x2="1133.8" y2="972.5" stroke="#000" stroke-width="1.9"/>
<text x="1118.7" y="981" class="tl" text-anchor="end">260</text>
<line x1="1126.8" y1="918" x2="1133.8" y2="918" stroke="#000" stroke-width="1.9"/>
<text x="1118.7" y="926.5" class="tl" text-anchor="end">280</text>
<line x1="1126.8" y1="863.6" x2="1133.8" y2="863.6" stroke="#000" stroke-width="1.9"/>
<text x="1118.7" y="872.1" class="tl" text-anchor="end">300</text>
<line x1="1126.8" y1="809.1" x2="1133.8" y2="809.1" stroke="#000" stroke-width="1.9"/>
<text x="1118.7" y="817.6" class="tl" text-anchor="end">320</text>
<line x1="1126.8" y1="754.6" x2="1133.8" y2="754.6" stroke="#000" stroke-width="1.9"/>
<text x="1118.7" y="763.1" class="tl" text-anchor="end">340</text>
<line x1="1126.8" y1="700.2" x2="1133.8" y2="700.2" stroke="#000" stroke-width="1.9"/>
<text x="1118.7" y="708.7" class="tl" text-anchor="end">360</text>
<line x1="1126.8" y1="645.7" x2="1133.8" y2="645.7" stroke="#000" stroke-width="1.9"/>
<text x="1118.7" y="654.2" class="tl" text-anchor="end">380</text>
<line x1="1126.8" y1="591.2" x2="1133.8" y2="591.2" stroke="#000" stroke-width="1.9"/>
<text x="1118.7" y="599.7" class="tl" text-anchor="end">400</text>
<line x1="1343.5" y1="1054.8" x2="1343.5" y2="1047.3" stroke="#000" stroke-width="1.9"/>
<text x="1343.5" y="1079.2" class="tl" text-anchor="middle">SY Ignis</text>
<line x1="1777.1" y1="1054.8" x2="1777.1" y2="1047.3" stroke="#000" stroke-width="1.9"/>
<text x="1777.1" y="1079.2" class="tl" text-anchor="middle">Alombo</text>
<text x="1561.3" y="1109" class="tl" text-anchor="middle">Variety</text>
<text x="1064.2" y="822.1" class="tl" text-anchor="middle" transform="rotate(-90 1064.2 822.1)">grams</text>
<rect x="1849.1" y="599.1" width="136.9" height="92" rx="3.5" fill="#fff" fill-opacity="0.8" stroke="#cccccc" stroke-width="1.3"/>
<text x="1917.5" y="622.2" class="lg" text-anchor="middle">Row Spacing</text>
<rect x="1864.2" y="637.4" width="37" height="12.6" fill="#ebc778" stroke="#111" stroke-width="1.5"/>
<rect x="1864.2" y="666.2" width="37" height="12.6" fill="#c76928" stroke="#111" stroke-width="1.5"/>
<text x="1918" y="650.3" class="lg">0.375</text>
<text x="1918" y="678.7" class="lg">0.75</text>
<rect x="1153.7" y="538.7" width="27.2" height="50.8" fill="#f47b20" stroke="#e96a12" stroke-width="1"/>
<text x="1167.8" y="571.4" class="bx" text-anchor="middle">d</text>
<path id="ve0" d="M301.8,1168.5 L293.6,1168.5 293.2,1170.5 292.7,1172.5 292.1,1174.5 291.4,1176.5 290.6,1178.5 289.8,1180.5 288.8,1182.5 287.8,1184.5 286.8,1186.5 285.6,1188.5 284.4,1190.5 283.1,1192.5 281.7,1194.5 280.3,1196.5 278.8,1198.5 277.3,1200.5 275.7,1202.5 274.1,1204.5 272.4,1206.5 270.7,1208.5 268.9,1210.5 267.1,1212.5 265.2,1214.5 263.3,1216.5 261.4,1218.5 259.5,1220.5 257.5,1222.5 255.5,1224.5 253.4,1226.5 251.4,1228.5 249.3,1230.5 247.2,1232.5 245.1,1234.5 243,1236.5 240.9,1238.5 238.8,1240.5 236.6,1242.5 234.5,1244.5 232.4,1246.5 230.3,1248.5 228.2,1250.5 226,1252.5 224,1254.5 221.9,1256.5 219.8,1258.5 217.8,1260.5 215.8,1262.5 213.8,1264.5 211.8,1266.5 209.9,1268.5 208,1270.5 206.1,1272.5 204.2,1274.5 202.4,1276.5 200.6,1278.5 198.8,1280.5 197.1,1282.5 195.4,1284.5 193.8,1286.5 192.1,1288.5 190.5,1290.5 189,1292.5 187.5,1294.5 186,1296.5 184.5,1298.5 183.1,1300.5 181.8,1302.5 180.5,1304.5 179.2,1306.5 178,1308.5 176.8,1310.5 175.6,1312.5 174.5,1314.5 173.5,1316.5 172.5,1318.5 171.5,1320.5 170.6,1322.5 169.7,1324.5 168.9,1326.5 168.2,1328.5 167.4,1330.5 166.8,1332.5 166.2,1334.5 165.6,1336.5 165.2,1338.5 164.7,1340.5 164.3,1342.6 164,1344.6 163.8,1346.6 163.6,1348.6 163.4,1350.6 163.3,1352.6 163.3,1354.6 163.4,1356.6 163.5,1358.6 163.6,1360.6 163.9,1362.6 164.2,1364.6 164.6,1366.6 165,1368.6 165.5,1370.6 166.1,1372.6 166.8,1374.6 167.6,1376.6 168.4,1378.6 169.3,1380.6 170.3,1382.6 171.4,1384.6 172.5,1386.6 173.8,1388.6 175.1,1390.6 176.6,1392.6 178.1,1394.6 179.7,1396.6 181.4,1398.6 183.2,1400.6 185,1402.6 186.9,1404.6 188.9,1406.6 191,1408.6 193.1,1410.6 195.3,1412.6 197.5,1414.6 199.8,1416.6 202.1,1418.6 204.5,1420.6 206.8,1422.6 209.3,1424.6 211.7,1426.6 214.2,1428.6 216.7,1430.6 219.2,1432.6 221.7,1434.6 224.2,1436.6 226.7,1438.6 229.2,1440.6 231.7,1442.6 234.2,1444.6 236.7,1446.6 239.2,1448.6 241.6,1450.6 244,1452.6 246.4,1454.6 248.8,1456.6 251.1,1458.6 253.4,1460.6 255.7,1462.6 257.9,1464.6 260.1,1466.6 262.2,1468.6 264.3,1470.6 266.3,1472.6 268.3,1474.6 270.3,1476.6 272.2,1478.6 274,1480.6 275.8,1482.6 277.5,1484.6 279.1,1486.6 280.7,1488.6 282.2,1490.6 283.6,1492.6 284.9,1494.6 286.2,1496.6 287.4,1498.6 288.5,1500.6 289.5,1502.6 290.5,1504.6 291.3,1506.6 292.1,1508.6 292.7,1510.6 293.3,1512.6 293.7,1514.6 L301.8,1514.6 Z" fill="#ebc778" stroke="#0d0d0d" stroke-width="3.0" stroke-linejoin="miter"/>
<path id="ve1" d="M301.8,1317.2 L313.1,1317.2 313.5,1319.2 314.1,1321.2 314.9,1323.2 315.8,1325.2 317,1327.2 318.2,1329.2 319.6,1331.2 321.2,1333.2 322.9,1335.2 324.7,1337.2 326.6,1339.2 328.7,1341.2 330.8,1343.2 333,1345.2 335.4,1347.2 337.8,1349.2 340.3,1351.2 342.8,1353.2 345.4,1355.2 348.1,1357.2 350.8,1359.2 353.6,1361.2 356.4,1363.2 359.2,1365.2 362,1367.2 364.8,1369.2 367.7,1371.2 370.5,1373.2 373.3,1375.2 376.1,1377.2 378.9,1379.2 381.6,1381.2 384.3,1383.2 386.9,1385.2 389.5,1387.3 392.1,1389.3 394.5,1391.3 396.9,1393.3 399.2,1395.3 401.4,1397.3 403.5,1399.3 405.5,1401.3 407.5,1403.3 409.4,1405.3 411.2,1407.3 413,1409.3 414.8,1411.3 416.5,1413.3 418.1,1415.3 419.8,1417.3 421.5,1419.3 423.1,1421.3 424.8,1423.3 426.4,1425.3 428.1,1427.3 429.8,1429.3 431.5,1431.3 433.3,1433.3 435.1,1435.3 436.9,1437.3 438.8,1439.3 440.8,1441.3 442.7,1443.3 444.7,1445.3 446.7,1447.3 448.7,1449.3 450.7,1451.3 452.7,1453.3 454.7,1455.3 456.6,1457.3 458.5,1459.3 460.4,1461.3 462.2,1463.3 464,1465.3 465.6,1467.3 467.3,1469.3 468.8,1471.3 470.2,1473.3 471.5,1475.3 472.6,1477.3 473.7,1479.3 474.5,1481.3 475.2,1483.3 475.8,1485.3 476.1,1487.3 476.2,1489.3 476.1,1491.3 475.8,1493.3 475.3,1495.3 474.4,1497.3 473.4,1499.3 472,1501.3 470.3,1503.3 468.3,1505.3 466,1507.3 463.4,1509.3 460.5,1511.3 457.2,1513.3 453.7,1515.3 450,1517.3 446.1,1519.3 442,1521.3 437.7,1523.4 433.3,1525.4 428.9,1527.4 424.3,1529.4 419.8,1531.4 415.2,1533.4 410.6,1535.4 406.1,1537.4 401.6,1539.4 397.1,1541.4 392.6,1543.4 388.2,1545.4 383.8,1547.4 379.5,1549.4 375.3,1551.4 371.2,1553.4 367.1,1555.4 363.1,1557.4 359.2,1559.4 355.4,1561.4 351.8,1563.4 348.2,1565.4 344.8,1567.4 341.5,1569.4 338.4,1571.4 335.4,1573.4 332.6,1575.4 329.9,1577.4 327.4,1579.4 325.1,1581.4 323,1583.4 321.1,1585.4 319.3,1587.4 317.8,1589.4 316.5,1591.4 L301.8,1591.4 Z" fill="#c76928" stroke="#0d0d0d" stroke-width="3.0" stroke-linejoin="miter"/>
<path id="ve2" d="M735.3,1329.3 L725.1,1329.3 723.8,1331.3 722.1,1333.3 720,1335.3 717.5,1337.4 714.6,1339.4 711.4,1341.4 707.9,1343.4 704.1,1345.4 700,1347.4 695.7,1349.5 691.2,1351.5 686.5,1353.5 681.7,1355.5 676.7,1357.5 671.7,1359.5 666.5,1361.6 661.3,1363.6 656.1,1365.6 650.9,1367.6 645.8,1369.6 640.7,1371.6 635.6,1373.7 630.7,1375.7 626,1377.7 621.4,1379.7 617,1381.7 612.7,1383.7 608.7,1385.8 604.8,1387.8 601.1,1389.8 597.6,1391.8 594.2,1393.8 591,1395.8 588,1397.9 585.1,1399.9 582.4,1401.9 579.8,1403.9 577.4,1405.9 575.1,1407.9 573,1410 571,1412 569.2,1414 567.6,1416 566.2,1418 564.9,1420 563.9,1422 563.2,1424.1 562.6,1426.1 562.4,1428.1 562.4,1430.1 562.8,1432.1 563.5,1434.1 564.5,1436.2 566,1438.2 568,1440.2 570.5,1442.2 573.5,1444.2 577.2,1446.2 581.5,1448.3 586.3,1450.3 591.6,1452.3 597,1454.3 602.5,1456.3 608,1458.3 613.6,1460.4 619.3,1462.4 625.1,1464.4 631.1,1466.4 637.3,1468.4 643.7,1470.4 650.4,1472.5 657.2,1474.5 664.1,1476.5 670.9,1478.5 677.6,1480.5 684,1482.5 690,1484.6 695.6,1486.6 700.5,1488.6 704.9,1490.6 708.7,1492.6 712.1,1494.6 715.2,1496.7 718,1498.7 720.7,1500.7 723.3,1502.7 L735.3,1502.7 Z" fill="#ebc778" stroke="#0d0d0d" stroke-width="3.0" stroke-linejoin="miter"/>
<path id="ve3" d="M735.5,1293.5 L741.4,1293.5 742.1,1295.5 742.9,1297.5 743.7,1299.5 744.6,1301.5 745.5,1303.5 746.4,1305.6 747.4,1307.6 748.4,1309.6 749.4,1311.6 750.5,1313.6 751.6,1315.6 752.7,1317.6 753.9,1319.6 755,1321.6 756.2,1323.6 757.4,1325.6 758.6,1327.7 759.8,1329.7 761,1331.7 762.2,1333.7 763.4,1335.7 764.7,1337.7 765.9,1339.7 767.1,1341.7 768.3,1343.7 769.4,1345.7 770.6,1347.7 771.8,1349.8 772.9,1351.8 774,1353.8 775.1,1355.8 776.1,1357.8 777.2,1359.8 778.1,1361.8 779.1,1363.8 780,1365.8 780.9,1367.8 781.7,1369.8 782.5,1371.9 783.3,1373.9 783.9,1375.9 784.6,1377.9 785.2,1379.9 785.7,1381.9 786.2,1383.9 786.7,1385.9 787.2,1387.9 787.7,1389.9 788.2,1391.9 788.7,1394 789.2,1396 789.7,1398 790.3,1400 790.9,1402 791.6,1404 792.3,1406 793.1,1408 794,1410 795,1412 796,1414 797.2,1416.1 798.5,1418.1 799.9,1420.1 801.4,1422.1 803,1424.1 804.8,1426.1 806.6,1428.1 808.6,1430.1 810.6,1432.1 812.7,1434.1 814.9,1436.1 817.2,1438.2 819.5,1440.2 821.9,1442.2 824.3,1444.2 826.8,1446.2 829.3,1448.2 831.9,1450.2 834.4,1452.2 837,1454.2 839.5,1456.2 841.9,1458.2 844.3,1460.3 846.7,1462.3 848.9,1464.3 851,1466.3 853,1468.3 854.8,1470.3 856.5,1472.3 858,1474.3 859.3,1476.3 860.3,1478.3 861.2,1480.3 861.8,1482.4 862.1,1484.4 862.1,1486.4 861.8,1488.4 861.3,1490.4 860.5,1492.4 859.4,1494.4 858.1,1496.4 856.6,1498.4 854.8,1500.4 852.8,1502.4 850.7,1504.5 848.3,1506.5 845.8,1508.5 843.1,1510.5 840.3,1512.5 837.3,1514.5 834.3,1516.5 831.1,1518.5 827.8,1520.5 824.4,1522.5 820.9,1524.5 817.4,1526.6 813.9,1528.6 810.3,1530.6 806.7,1532.6 803.1,1534.6 799.5,1536.6 795.9,1538.6 792.4,1540.6 788.9,1542.6 785.5,1544.6 782.1,1546.6 778.8,1548.7 775.7,1550.7 772.6,1552.7 769.7,1554.7 766.9,1556.7 764.3,1558.7 761.8,1560.7 759.5,1562.7 757.4,1564.7 755.5,1566.7 753.9,1568.7 752.5,1570.8 751.3,1572.8 750.3,1574.8 749.7,1576.8 749.3,1578.8 749.3,1580.8 L735.5,1580.8 Z" fill="#c76928" stroke="#0d0d0d" stroke-width="3.0" stroke-linejoin="miter"/>
<g class="g"><line x1="85" y1="1571" x2="953.3" y2="1571"/><line x1="85" y1="1514.3" x2="953.3" y2="1514.3"/><line x1="85" y1="1457.6" x2="953.3" y2="1457.6"/><line x1="85" y1="1400.9" x2="953.3" y2="1400.9"/><line x1="85" y1="1344.1" x2="953.3" y2="1344.1"/><line x1="85" y1="1287.4" x2="953.3" y2="1287.4"/><line x1="85" y1="1230.7" x2="953.3" y2="1230.7"/><line x1="85" y1="1174" x2="953.3" y2="1174"/></g>
<clipPath id="ce0"><use href="#ve0"/></clipPath>
<g class="gc" stroke="#dac7a2" clip-path="url(#ce0)"><line x1="85" y1="1571" x2="953.3" y2="1571"/><line x1="85" y1="1514.3" x2="953.3" y2="1514.3"/><line x1="85" y1="1457.6" x2="953.3" y2="1457.6"/><line x1="85" y1="1400.9" x2="953.3" y2="1400.9"/><line x1="85" y1="1344.1" x2="953.3" y2="1344.1"/><line x1="85" y1="1287.4" x2="953.3" y2="1287.4"/><line x1="85" y1="1230.7" x2="953.3" y2="1230.7"/><line x1="85" y1="1174" x2="953.3" y2="1174"/></g>
<clipPath id="ce1"><use href="#ve1"/></clipPath>
<g class="gc" stroke="#e6bc9c" clip-path="url(#ce1)"><line x1="85" y1="1571" x2="953.3" y2="1571"/><line x1="85" y1="1514.3" x2="953.3" y2="1514.3"/><line x1="85" y1="1457.6" x2="953.3" y2="1457.6"/><line x1="85" y1="1400.9" x2="953.3" y2="1400.9"/><line x1="85" y1="1344.1" x2="953.3" y2="1344.1"/><line x1="85" y1="1287.4" x2="953.3" y2="1287.4"/><line x1="85" y1="1230.7" x2="953.3" y2="1230.7"/><line x1="85" y1="1174" x2="953.3" y2="1174"/></g>
<clipPath id="ce2"><use href="#ve2"/></clipPath>
<g class="gc" stroke="#dac7a2" clip-path="url(#ce2)"><line x1="85" y1="1571" x2="953.3" y2="1571"/><line x1="85" y1="1514.3" x2="953.3" y2="1514.3"/><line x1="85" y1="1457.6" x2="953.3" y2="1457.6"/><line x1="85" y1="1400.9" x2="953.3" y2="1400.9"/><line x1="85" y1="1344.1" x2="953.3" y2="1344.1"/><line x1="85" y1="1287.4" x2="953.3" y2="1287.4"/><line x1="85" y1="1230.7" x2="953.3" y2="1230.7"/><line x1="85" y1="1174" x2="953.3" y2="1174"/></g>
<clipPath id="ce3"><use href="#ve3"/></clipPath>
<g class="gc" stroke="#e6bc9c" clip-path="url(#ce3)"><line x1="85" y1="1571" x2="953.3" y2="1571"/><line x1="85" y1="1514.3" x2="953.3" y2="1514.3"/><line x1="85" y1="1457.6" x2="953.3" y2="1457.6"/><line x1="85" y1="1400.9" x2="953.3" y2="1400.9"/><line x1="85" y1="1344.1" x2="953.3" y2="1344.1"/><line x1="85" y1="1287.4" x2="953.3" y2="1287.4"/><line x1="85" y1="1230.7" x2="953.3" y2="1230.7"/><line x1="85" y1="1174" x2="953.3" y2="1174"/></g>
<use href="#ve0" fill="none"/>
<use href="#ve1" fill="none"/>
<use href="#ve2" fill="none"/>
<use href="#ve3" fill="none"/>
<line x1="177.2" y1="1311.9" x2="301.8" y2="1311.9" stroke="#222222" stroke-width="3.0" stroke-dasharray="6.3 6.3"/>
<line x1="165" y1="1348.2" x2="301.8" y2="1348.2" stroke="#222222" stroke-width="3.0" stroke-dasharray="12.6 12.6"/>
<line x1="170.7" y1="1380.7" x2="301.8" y2="1380.7" stroke="#222222" stroke-width="3.0" stroke-dasharray="6.3 6.3"/>
<line x1="301.8" y1="1437.9" x2="436.2" y2="1437.9" stroke="#222222" stroke-width="3.0" stroke-dasharray="6.3 6.3"/>
<line x1="301.8" y1="1477.1" x2="470.8" y2="1477.1" stroke="#222222" stroke-width="3.0" stroke-dasharray="12.6 12.6"/>
<line x1="301.8" y1="1504.2" x2="467.8" y2="1504.2" stroke="#222222" stroke-width="3.0" stroke-dasharray="6.3 6.3"/>
<line x1="585.8" y1="1400.5" x2="735.3" y2="1400.5" stroke="#222222" stroke-width="3.0" stroke-dasharray="6.3 6.3"/>
<line x1="565.9" y1="1421.5" x2="735.3" y2="1421.5" stroke="#222222" stroke-width="3.0" stroke-dasharray="12.6 12.6"/>
<line x1="569.5" y1="1440" x2="735.3" y2="1440" stroke="#222222" stroke-width="3.0" stroke-dasharray="6.3 6.3"/>
<line x1="735.5" y1="1448.6" x2="828.9" y2="1448.6" stroke="#222222" stroke-width="3.0" stroke-dasharray="6.3 6.3"/>
<line x1="735.5" y1="1481.6" x2="860.3" y2="1481.6" stroke="#222222" stroke-width="3.0" stroke-dasharray="12.6 12.6"/>
<line x1="735.5" y1="1492.1" x2="859.3" y2="1492.1" stroke="#222222" stroke-width="3.0" stroke-dasharray="6.3 6.3"/>
<path d="M85,1147 L85,1611.6 L953.3,1611.6" fill="none" stroke="#000" stroke-width="2.3" stroke-linecap="square" stroke-linejoin="round"/>
<line x1="85" y1="1571" x2="92" y2="1571" stroke="#000" stroke-width="1.9"/>
<text x="76.9" y="1579.5" class="tl" text-anchor="end">120</text>
<line x1="85" y1="1514.3" x2="92" y2="1514.3" stroke="#000" stroke-width="1.9"/>
<text x="76.9" y="1522.8" class="tl" text-anchor="end">140</text>
<line x1="85" y1="1457.6" x2="92" y2="1457.6" stroke="#000" stroke-width="1.9"/>
<text x="76.9" y="1466.1" class="tl" text-anchor="end">160</text>
<line x1="85" y1="1400.9" x2="92" y2="1400.9" stroke="#000" stroke-width="1.9"/>
<text x="76.9" y="1409.4" class="tl" text-anchor="end">180</text>
<line x1="85" y1="1344.1" x2="92" y2="1344.1" stroke="#000" stroke-width="1.9"/>
<text x="76.9" y="1352.6" class="tl" text-anchor="end">200</text>
<line x1="85" y1="1287.4" x2="92" y2="1287.4" stroke="#000" stroke-width="1.9"/>
<text x="76.9" y="1295.9" class="tl" text-anchor="end">220</text>
<line x1="85" y1="1230.7" x2="92" y2="1230.7" stroke="#000" stroke-width="1.9"/>
<text x="76.9" y="1239.2" class="tl" text-anchor="end">240</text>
<line x1="85" y1="1174" x2="92" y2="1174" stroke="#000" stroke-width="1.9"/>
<text x="76.9" y="1182.5" class="tl" text-anchor="end">260</text>
<line x1="301.6" y1="1611.6" x2="301.6" y2="1604.1" stroke="#000" stroke-width="1.9"/>
<text x="301.6" y="1636" class="tl" text-anchor="middle">SY Ignis</text>
<line x1="735.4" y1="1611.6" x2="735.4" y2="1604.1" stroke="#000" stroke-width="1.9"/>
<text x="735.4" y="1636" class="tl" text-anchor="middle">Alombo</text>
<text x="519.1" y="1665.8" class="tl" text-anchor="middle">Variety</text>
<text x="22.4" y="1379.3" class="tl" text-anchor="middle" transform="rotate(-90 22.4 1379.3)">grams</text>
<rect x="806.6" y="1156.6" width="136.9" height="92" rx="3.5" fill="#fff" fill-opacity="0.8" stroke="#cccccc" stroke-width="1.3"/>
<text x="875" y="1179.7" class="lg" text-anchor="middle">Row Spacing</text>
<rect x="821.7" y="1194.9" width="37" height="12.6" fill="#ebc778" stroke="#111" stroke-width="1.5"/>
<rect x="821.7" y="1223.7" width="37" height="12.6" fill="#c76928" stroke="#111" stroke-width="1.5"/>
<text x="875.5" y="1207.8" class="lg">0.375</text>
<text x="875.5" y="1236.2" class="lg">0.75</text>
<rect x="111" y="1111.3" width="27" height="47.4" fill="#f47b20" stroke="#e96a12" stroke-width="1"/>
<text x="125" y="1141" class="bx" text-anchor="middle">e</text>
</svg>
</body></html>
